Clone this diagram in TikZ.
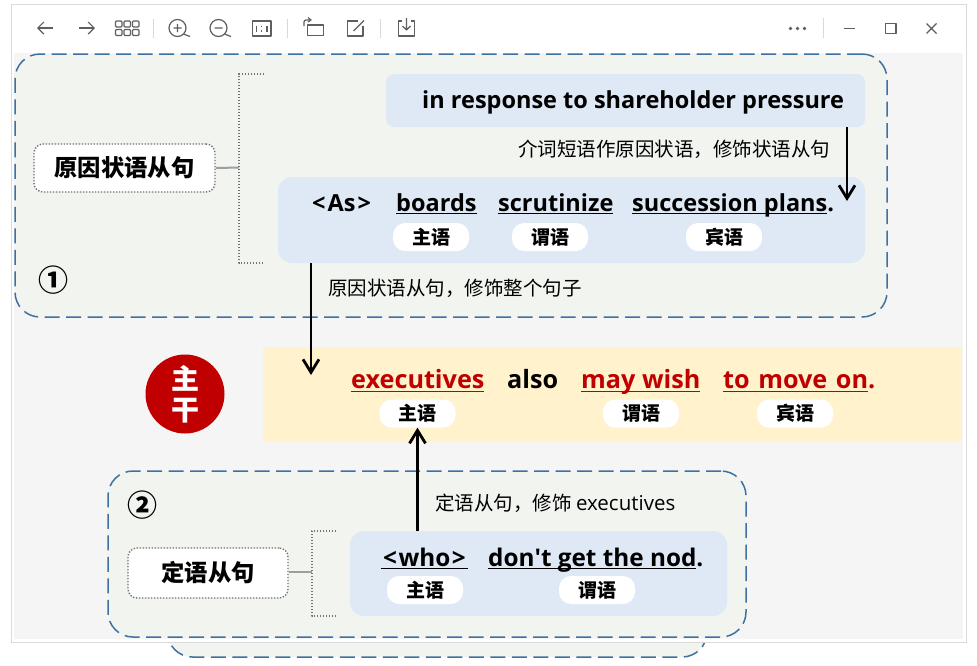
\documentclass[tikz,border=0pt]{standalone}
\usepackage{fontspec}
\setmainfont{Open Sans}
\newfontfamily\cjk{Noto Sans CJK SC}
\usetikzlibrary{arrows.meta}
\definecolor{panelgreen}{HTML}{F2F4EF}
\definecolor{dashblue}{HTML}{3E70A1}
\definecolor{boxblue}{HTML}{DEE9F5}
\definecolor{bandyellow}{HTML}{FFF2CC}
\definecolor{mainred}{HTML}{C00000}
\definecolor{iconcol}{HTML}{5F5F5F}
\newcommand{\uword}[1]{\setbox0=\hbox{#1}\rlap{\rule[-3.2pt]{\wd0}{1.2pt}}\box0}
\newcommand{\wcomma}{\symbol{"FF0C}}
\tikzset{
  panel/.style={draw=dashblue,fill=panelgreen,line width=1.5pt,rounded corners=25pt,dash pattern=on 15pt off 6.5pt,inner sep=0pt},
  bluebox/.style={fill=boxblue,rounded corners=#1,inner sep=0pt},
  tagbox/.style={draw=black!55,fill=white,line width=1.4pt,dash pattern=on 1.4pt off 1.6pt,rounded corners=9pt,inner sep=0pt,font=\cjk\bfseries\fontsize{23.3}{27}\selectfont},
  pill/.style={fill=white,rounded corners=12pt,minimum width=76pt,minimum height=28pt,inner sep=0pt,font=\cjk\bfseries\fontsize{19}{23}\selectfont},
  word/.style={anchor=base west,inner sep=0pt,font=\bfseries\fontsize{23.5}{29}\selectfont},
  whoword/.style={anchor=base west,inner sep=0pt,font=\bfseries\fontsize{24.3}{29}\selectfont},
  redword/.style={anchor=base west,inner sep=0pt,text=mainred,font=\bfseries\fontsize{25.2}{29}\selectfont},
  note/.style={anchor=base west,inner sep=0pt,font=\cjk\fontsize{19.5}{24}\selectfont},
  number/.style={inner sep=0pt,font=\cjk\bfseries\fontsize{30}{36}\selectfont},
  bracket/.style={draw=black!55,line width=1.4pt,dash pattern=on 1.4pt off 1.6pt},
  tagline/.style={draw=black!38,line width=2pt},
  arrowline/.style={draw=black,line width=2.8pt,-{Straight Barb[length=13pt,width=16pt,line width=2.8pt]}},
  icon/.style={draw=iconcol,line width=1.2pt},
  sepline/.style={draw=black!15,line width=1pt}
}
\begin{document}
\begin{tikzpicture}[line join=round,x=1pt,y=-1pt]
\useasboundingbox (0,0) rectangle (977,665);
\fill[white] (0,0) rectangle (977,665);
\draw[panel] (167.5,600) rectangle (707,657);
\fill[black!14] (10.5,3.5) rectangle (966.5,642.5);
\fill[white] (11.5,4.5) rectangle (965.5,641.5);
\fill[black!4] (14,53) rectangle (963,639);
\draw[icon,-{Straight Barb[length=6pt,width=12pt,line width=1.2pt]}] (53,28) -- (37,28);
\draw[icon,-{Straight Barb[length=6pt,width=12pt,line width=1.2pt]}] (79,28) -- (95,28);
\foreach \gx in {115.5,124,132.5}
  \foreach \gy in {21,29.5}
    \draw[icon,rounded corners=1pt] (\gx,\gy) rectangle +(6.5,6);
\draw[sepline] (153,19) -- (153,38);
\draw[icon] (177.5,28) circle (8.5);
\draw[icon] (183.5,34) -- (190,36.5) (173.5,28) -- (181.5,28) (177.5,24) -- (177.5,32);
\draw[icon] (218.5,28) circle (8.5);
\draw[icon] (224.5,34) -- (231,36.5) (214.5,28) -- (222.5,28);
\draw[icon] (252.5,21) rectangle (271,36);
\draw[icon] (256.5,25.5) -- (256.5,32) (267,25.5) -- (267,32) (261.8,25.5) -- (261.8,27) (261.8,30) -- (261.8,31.5);
\draw[sepline] (287,19) -- (287,38);
\draw[icon] (307.5,25) rectangle (323.5,35.5);
\draw[icon,rounded corners=2pt] (304,26) -- (304,20) -- (311,20);
\draw[icon] (308,17.5) -- (311,20) -- (308,22);
\draw[icon] (358,21) -- (347.5,21) -- (347.5,36) -- (363,36) -- (363,26);
\draw[icon] (353.5,31) -- (364,20.5);
\draw[sepline] (380,19) -- (380,38);
\draw[icon] (402,21) -- (398.5,21) -- (398.5,36) -- (414.5,36) -- (414.5,21) -- (411,21);
\draw[icon] (406.5,18) -- (406.5,30) (402.5,26) -- (406.5,30) -- (410.5,26);
\fill[iconcol] (790.5,28.5) circle (1.8) (797.5,28.5) circle (1.8) (804.5,28.5) circle (1.8);
\draw[sepline] (823.5,18) -- (823.5,38);
\draw[icon] (844,28.5) -- (855,28.5);
\draw[icon] (885.5,23.5) rectangle (896,33.5);
\draw[icon] (926.5,23.5) -- (936.5,33.5) (936.5,23.5) -- (926.5,33.5);

\node[panel,minimum width=872pt,minimum height=263pt] (whypanel) at (451,185.5) {};
\node[bluebox=8pt,minimum width=479pt,minimum height=53pt] (prepbox) at (625.5,100.5) {};
\node[bluebox=14pt,minimum width=587pt,minimum height=86pt] (asbox) at (571.5,220) {};
\node[tagbox,minimum width=181pt,minimum height=48pt] (whytag) at (124.5,168) {原因状语从句};
\coordinate (whyjoin) at (239,167.5);
\draw[tagline] (whytag.east) -- (whyjoin);
\draw[bracket] (264,74) -- (239,74) -- (239,263) -- (264,263);
\node[word] (prepword) at (422,108) {in response to shareholder pressure};
\node[note] (prepnote) at (518,156) {介词短语作原因状语\wcomma 修饰状语从句};
\node[word] (asword) at (312,211) {\textless\kern2pt As\kern2pt\textgreater};
\node[word] (boardsword) at (396,211) {\uword{boards}};
\node[word] (scrutword) at (498,211) {\uword{scrutinize}};
\node[word] (planword) at (632,211) {\uword{succession plans}.};
\node[pill] (assubj) at (431,237) {主语};
\node[pill] (asverb) at (550,237) {谓语};
\node[pill] (asobj) at (724,237) {宾语};
\node[note] (whynote) at (328,295) {原因状语从句\wcomma 修饰整个句子};
\node[number] (numone) at (53,280) {①};

\node[fill=bandyellow,minimum width=699pt,minimum height=95pt,inner sep=0pt] (mainband) at (612.5,394.5) {};
\node[circle,fill=mainred,minimum size=79pt,inner sep=0pt] (maindisc) at (185,394) {};
\node[text=white,inner sep=0pt,font=\cjk\bfseries\fontsize{28}{32}\selectfont] (mainzhu) at (185,378.5) {主};
\node[text=white,inner sep=0pt,font=\cjk\bfseries\fontsize{28}{32}\selectfont] (maingan) at (185,411) {干};
\node[redword] (execword) at (351,388.5) {\uword{executives}};
\node[word,font=\bfseries\fontsize{25.2}{29}\selectfont] (alsoword) at (507,388.5) {also};
\node[redword] (mayword) at (581,388.5) {\uword{may wish}};
\node[redword] (moveword) at (723,388.5) {\uword{to\kern2pt\ move\kern2pt\ on}.};
\node[pill] (mainsubj) at (417.5,413.5) {主语};
\node[pill] (mainverb) at (641,413.5) {谓语};
\node[pill] (mainobj) at (795,413.5) {宾语};

\node[panel,minimum width=638pt,minimum height=166pt] (relpanel) at (427,554) {};
\node[bluebox=14pt,minimum width=377pt,minimum height=85pt] (whobox) at (538.5,573.5) {};
\node[tagbox,minimum width=160pt,minimum height=50pt] (reltag) at (208,573) {定语从句};
\coordinate (reljoin) at (312,572);
\draw[tagline] (reltag.east |- reljoin) -- (reljoin);
\draw[bracket] (336,531) -- (312,531) -- (312,616) -- (336,616);
\node[note] (relnote) at (435,510) {定语从句\wcomma 修饰 {\fontspec{Open Sans}\fontsize{20.5}{24}\selectfont executives}};
\node[whoword] (whotext) at (381,566) {\uword{\kern2pt\textless\kern1.5pt who\kern1.5pt\textgreater\kern2pt}};
\node[whoword] (nodword) at (488,566) {\uword{don\textquotesingle t get the nod}.};
\node[pill] (whosubj) at (425,590) {主语};
\node[pill] (whoverb) at (597,590) {谓语};
\node[number] (numtwo) at (142,505) {②};

\coordinate (prepend) at (847,201);
\coordinate (whyend) at (311,375);
\draw[arrowline] (prepbox.south -| prepend) -- (prepend);
\draw[arrowline] (asbox.south -| whyend) -- (whyend);
\draw[arrowline] (whobox.north -| mainsubj) -- (mainsubj.south);
\end{tikzpicture}
\end{document}
